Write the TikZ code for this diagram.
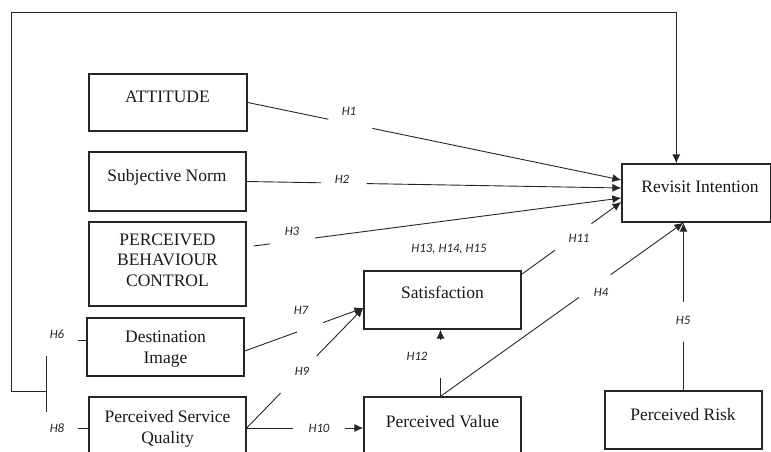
\documentclass[tikz,border=0pt]{standalone}
\usepackage{fontspec}
\setmainfont{Liberation Serif}
\newfontfamily\lblfont{Carlito}
\usetikzlibrary{arrows.meta,calc}
\begin{document}
\begin{tikzpicture}[x=1pt,y=-1pt,
  box/.style={draw=black!85,line width=1.3pt,inner sep=0pt},
  txt/.style={font=\fontsize{17.5}{20.5}\selectfont,align=center,inner sep=0pt,text=black!90},
  lbl/.style={font=\lblfont\itshape\fontsize{12.8}{14}\selectfont,inner sep=0pt,text=black!85},
  ln/.style={draw=black!85,line width=0.9pt},
  arr/.style={ln,-{Latex[length=9pt,width=8pt]}}]
\useasboundingbox (0,0) rectangle (771,452);
\clip (0,0) rectangle (771,452);
% boxes
\node[box,minimum width=158pt,minimum height=57pt] (att) at (168,102.5) {};
\node[box,minimum width=157pt,minimum height=59pt] (sn) at (167.5,181.5) {};
\node[box,minimum width=157pt,minimum height=84pt] (pbc) at (167.5,264) {};
\node[box,minimum width=157pt,minimum height=58pt] (di) at (165.5,347) {};
\node[box,minimum width=157pt,minimum height=58pt] (psq) at (167.5,426) {};
\node[box,minimum width=157pt,minimum height=58pt] (sat) at (442.5,300) {};
\node[box,minimum width=157pt,minimum height=58pt] (pv) at (442.5,426) {};
\node[box,minimum width=148.5pt,minimum height=58pt] (ri) at (696.25,193) {};
\node[box,minimum width=157pt,minimum height=58pt] (pr) at (683.5,420) {};
% texts (base anchor = baseline of last line)
\node[txt,anchor=base] (att-t) at (167.5,102) {ATTITUDE};
\node[txt,anchor=base] (sn-t) at (167,181) {Subjective Norm};
\node[txt,anchor=base] (pbc-t) at (167.5,286) {PERCEIVED\\BEHAVIOUR\\CONTROL};
\node[txt,anchor=base] (di-t) at (165.5,363) {Destination\\Image};
\node[txt,anchor=base] (psq-t) at (167.5,443) {Perceived Service\\Quality};
\node[txt,anchor=base] (sat-t) at (442.5,298) {Satisfaction};
\node[txt,anchor=base] (pv-t) at (442.5,427) {Perceived Value};
\node[txt,anchor=base] (ri-t) at (700,192) {Revisit Intention};
\node[txt,anchor=base] (pr-t) at (683,420) {Perceived Risk};
% anchor coordinates
\coordinate (ri1) at ([yshift=13pt]ri.west);
\coordinate (ri2) at ([yshift=5pt]ri.west);
\coordinate (ri3) at ([yshift=-5pt]ri.west);
\coordinate (ri4) at ([yshift=-9pt]ri.west);
\coordinate (rib) at (pr.north |- ri.south);
\coordinate (ritop) at ([xshift=-20pt]ri.north);
\coordinate (pbcs) at ([xshift=7pt,yshift=18pt]pbc.east);
\coordinate (sat1) at ([yshift=-4pt]sat.north east);
\coordinate (pvn) at ([xshift=-2pt]pv.north);
\coordinate (satS) at ([xshift=-2pt]sat.south);
\coordinate (die) at ([yshift=-4pt]di.east);
\coordinate (satw) at ([yshift=-8pt]sat.west);
\coordinate (psqe) at ([yshift=-2pt]psq.east);
\coordinate (pvw) at ([yshift=-2pt]pv.west);
% H1
\draw[ln] (att.east) -- ($(att.east)!0.216!(ri1)$);
\draw[arr] ($(att.east)!0.334!(ri1)$) -- (ri1);
\node[lbl] (h1) at (349,111.5) {H1};
% H2
\draw[ln] (sn.east) -- ($(sn.east)!0.199!(ri2)$);
\draw[arr] ($(sn.east)!0.32!(ri2)$) -- (ri2);
\node[lbl] (h2) at (342,179.5) {H2};
% H3
\draw[ln] (pbcs) -- ($(pbcs)!0.044!(ri3)$);
\draw[arr] ($(pbcs)!0.167!(ri3)$) -- (ri3);
\node[lbl] (h3) at (292,231) {H3};
% H11
\draw[ln] (sat1) -- ($(sat1)!0.333!(ri4)$);
\draw[arr] ($(sat1)!0.70!(ri4)$) -- (ri4);
\node[lbl] (h11) at (579,238) {H11};
\node[lbl] (h13) at (449,249) {H13, H14, H15};
% H4
\draw[ln] (pvn) -- ($(pvn)!0.57!(rib)$);
\draw[arr] ($(pvn)!0.70!(rib)$) -- (rib);
\node[lbl] (h4) at (601,292) {H4};
% H5
\draw[ln] (pr.north) -- ($(pr.north)!0.29!(rib)$);
\draw[arr] ($(pr.north)!0.527!(rib)$) -- (rib);
\node[lbl] (h5) at (683,320) {H5};
% H12
\draw[ln] (pvn) -- ($(pvn)!0.28!(satS)$);
\draw[arr] ($(pvn)!0.84!(satS)$) -- (satS);
\node[lbl] (h12) at (417,356.5) {H12};
% H7
\draw[ln] (die) -- ($(die)!0.44!(satw)$);
\draw[arr] ($(die)!0.66!(satw)$) -- (satw);
\node[lbl] (h7) at (301,310) {H7};
% H9
\draw[ln] (psqe) -- ($(psqe)!0.29!(satw)$);
\draw[arr] ($(psqe)!0.60!(satw)$) -- (satw);
\node[lbl] (h9) at (302,371) {H9};
% H10
\draw[ln] (psqe) -- ($(psqe)!0.40!(pvw)$);
\draw[arr] ($(psqe)!0.84!(pvw)$) -- (pvw);
\node[lbl] (h10) at (319,428) {H10};
% feedback path H6/H8
\coordinate (bar1) at (46,356);
\coordinate (bar2) at (46,412);
\coordinate (fb) at (46,391);
\draw[ln] (bar1) -- (bar2);
\draw[arr] (fb) -- (11,391) -- (11,12) -| (ritop);
\draw[ln] ([xshift=-8pt,yshift=7pt]di.west) -- ([yshift=7pt]di.west);
\draw[ln] ([xshift=-10pt,yshift=-2pt]psq.west) -- ([yshift=-2pt]psq.west);
\node[lbl] (h6) at (57,334.5) {H6};
\node[lbl] (h8) at (57,428) {H8};
\end{tikzpicture}
\end{document}
